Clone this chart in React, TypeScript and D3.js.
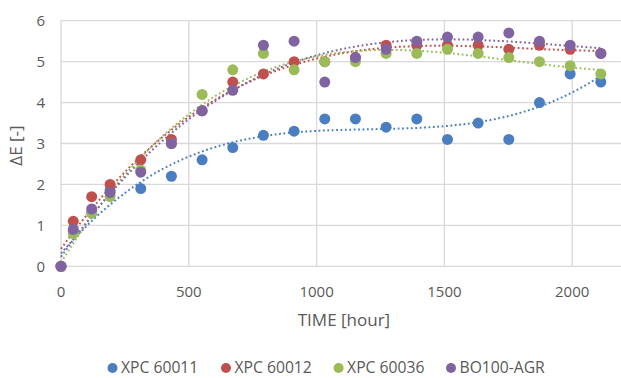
import React from "react";
import * as d3 from "d3";

const hours = [0, 48, 120, 192, 312, 432, 552, 672, 792, 912, 1032, 1152, 1272, 1392, 1512, 1632, 1752, 1872, 1992, 2112];
const xpc60011 = [0, 0.85, 1.3, 1.85, 1.9, 2.2, 2.6, 2.9, 3.2, 3.3, 3.6, 3.6, 3.4, 3.6, 3.1, 3.5, 3.1, 4.0, 4.7, 4.5];
const xpc60012 = [0, 1.1, 1.7, 2.0, 2.6, 3.1, 3.8, 4.5, 4.7, 5.0, 5.0, 5.1, 5.4, 5.4, 5.4, 5.4, 5.3, 5.4, 5.3, 5.2];
const xpc60036 = [0, 0.8, 1.3, 1.7, 2.35, 3.0, 4.2, 4.8, 5.2, 4.8, 5.0, 5.0, 5.2, 5.2, 5.3, 5.2, 5.1, 5.0, 4.9, 4.7];
const bo100 = [0, 0.9, 1.4, 1.8, 2.3, 3.0, 3.8, 4.3, 5.4, 5.5, 4.5, 5.1, 5.3, 5.5, 5.6, 5.6, 5.7, 5.5, 5.4, 5.2];

const seriesNames = ["XPC 60011", "XPC 60012", "XPC 60036", "BO100-AGR"];
const seriesValues = [xpc60011, xpc60012, xpc60036, bo100];
const colors = ["#4A7EC1", "#C0504D", "#9BBB59", "#8064A2"];
const xTicks = [0, 500, 1000, 1500, 2000];
const yTicks = [0, 1, 2, 3, 4, 5, 6];

// least-squares polynomial fit (Excel-style trendline)
function polyFit(xs: number[], ys: number[], order: number): number[] {
  const s = 1000;
  const n = order + 1;
  const A: number[][] = Array.from({ length: n }, () => new Array(n + 1).fill(0));
  xs.forEach((xv, k) => {
    const x = xv / s;
    for (let i = 0; i < n; i++) {
      for (let j = 0; j < n; j++) A[i][j] += Math.pow(x, i + j);
      A[i][n] += ys[k] * Math.pow(x, i);
    }
  });
  for (let i = 0; i < n; i++) {
    let p = i;
    for (let r = i + 1; r < n; r++) if (Math.abs(A[r][i]) > Math.abs(A[p][i])) p = r;
    [A[i], A[p]] = [A[p], A[i]];
    for (let r = 0; r < n; r++) {
      if (r === i) continue;
      const f = A[r][i] / A[i][i];
      for (let c = i; c <= n; c++) A[r][c] -= f * A[i][c];
    }
  }
  return A.map((row, i) => row[n] / row[i]);
}
function polyEval(c: number[], xv: number) {
  const x = xv / 1000;
  return c.reduce((acc, ci, i) => acc + ci * Math.pow(x, i), 0);
}

export default function App() {
  const W = 621, H = 378;
  const x = d3.scaleLinear().domain([0, 2200]).range([61, 61 + 2200 * 0.2556]);
  const y = d3.scaleLinear().domain([0, 6]).range([266.3, 20.7]);
  const font = "'Open Sans', 'Noto Sans', sans-serif";
  const fs = 15;
  const line = d3.line<[number, number]>().x((d) => x(d[0])).y((d) => y(d[1]));
  const samples = d3.range(0, 2112 + 1, 8);

  const legendX = [112.5, 226, 338.6, 451];

  return (
    <svg width={W} height={H} style={{ position: "absolute", left: 0, top: 0, background: "#fff" }} fontFamily={font}>
      <rect width={W} height={H} fill="#fff" />
      {yTicks.map((t) => (
        <line key={"gy" + t} x1={x(0)} x2={W} y1={y(t)} y2={y(t)} stroke="#D9D9D9" strokeWidth={1.3} />
      ))}
      {xTicks.map((t) => (
        <line key={"gx" + t} x1={x(t)} x2={x(t)} y1={y(6)} y2={y(0)} stroke="#D9D9D9" strokeWidth={1.3} />
      ))}
      {yTicks.map((t) => (
        <text key={"ty" + t} x={45} y={y(t)} dy="0.35em" textAnchor="end" fontSize={fs} fill="#595959">{t}</text>
      ))}
      {xTicks.map((t) => (
        <text key={"tx" + t} x={x(t)} y={291.5} dy="0.35em" textAnchor="middle" fontSize={fs} fill="#595959">{t}</text>
      ))}
      <text x={x(1107)} y={320} dy="0.35em" textAnchor="middle" fontSize={17} fill="#595959">TIME [hour]</text>
      <text transform={`translate(16,${y(2.95)}) rotate(-90)`} textAnchor="middle" dy="0.35em" fontSize={17} fill="#595959">ΔE [-]</text>

      {seriesValues.map((vals, si) => {
        const c = polyFit(hours, vals, 3);
        const pts: [number, number][] = samples.map((h) => [h, polyEval(c, h)]);
        pts.push([2112, polyEval(c, 2112)]);
        return (
          <path key={"tr" + si} d={line(pts) || ""} fill="none" stroke={colors[si]} strokeWidth={2} strokeDasharray="1.8 2.6" />
        );
      })}
      {seriesValues.map((vals, si) => (
        <g key={"s" + si}>
          {vals.map((v, i) => (
            <circle key={i} cx={x(hours[i])} cy={y(v)} r={5.5} fill={colors[si]} />
          ))}
        </g>
      ))}
      {seriesNames.map((n, i) => (
        <g key={"lg" + i}>
          <circle cx={legendX[i]} cy={368} r={5} fill={colors[i]} />
          <text x={legendX[i] + 8.5} y={368} dy="0.35em" fontSize={15.7} fill="#595959">{n}</text>
        </g>
      ))}
    </svg>
  );
}
